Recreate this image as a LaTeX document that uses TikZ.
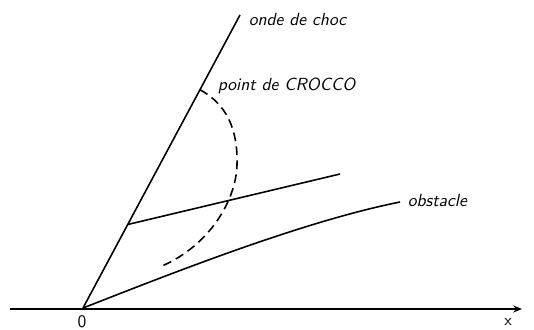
\documentclass[tikz,border=0pt]{standalone}
\usepackage{tikz}
\usetikzlibrary{arrows.meta,calc}
\tikzset{lbl/.style={font=\sffamily\itshape,inner sep=0pt}}

\begin{document}
\begin{tikzpicture}[x=0.02cm,y=-0.02cm,line width=0.9pt]
\useasboundingbox (0,0) rectangle (534,329);
\coordinate (O) at (83,308);
\coordinate (S) at (240,15);
\coordinate (A) at (10,309);
\coordinate (B) at (522,309);
\coordinate (C) at ($(O)!0.745!(S)$);
\coordinate (P) at ($(O)!0.285!(S)$);
\coordinate (Q) at (340,174);
\coordinate (E) at (400,202);
\draw[-{Stealth[length=5pt,width=4pt]}] (A) -- (B);
\draw (O) -- (S);
\draw (P) -- (Q);
\draw (O) .. controls (165,276) and (300,222) .. (E);
\draw[dash pattern=on 5pt off 3pt] (C) .. controls (226,104) and (238,128) .. (237,165)
  .. controls (236,200) and (210,245) .. (162,266);
\node[lbl,anchor=base west] (shock) at (248,25) {onde de choc};
\node[lbl,anchor=base west] (crocco) at (217,90) {point de CROCCO};
\node[lbl,anchor=base west] (obst) at (407,206) {obstacle};
\node[font=\sffamily] (zero) at (82,322) {0};
\node[font=\sffamily\small] (xlab) at (508,322) {x};
\end{tikzpicture}
\end{document}
